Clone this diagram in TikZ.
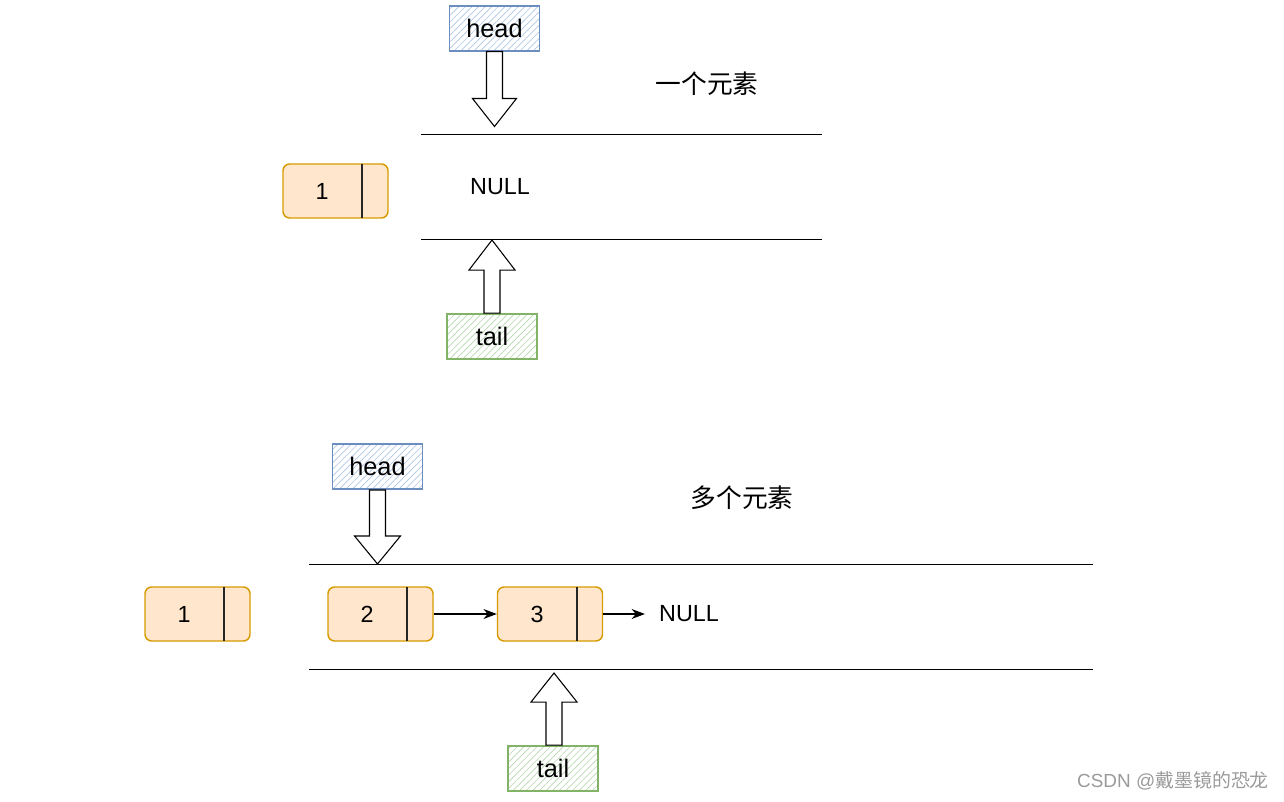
\documentclass[tikz,border=0pt]{standalone}
\usepackage{fontspec}
\setmainfont{Liberation Sans}
\newfontfamily\cjk{Noto Sans CJK SC}
\usetikzlibrary{patterns.meta,arrows.meta}
\definecolor{nodefill}{HTML}{FFE6CC}
\definecolor{nodeline}{HTML}{D79B00}
\definecolor{headline}{HTML}{6C8EBF}
\definecolor{headhatch}{HTML}{AFC6E6}
\definecolor{tailline}{HTML}{82B366}
\definecolor{tailhatch}{HTML}{B6D6AE}
\definecolor{wmgray}{HTML}{9A9A9A}
\begin{document}
\begin{tikzpicture}[x=0.75pt,y=-0.75pt,
  lnode/.style={draw=nodeline,fill=nodefill,line width=1.1pt,rounded corners=5pt,
    minimum width=78.75pt,minimum height=40.5pt,inner sep=0pt},
  ltext/.style={font=\fontsize{17.5}{20}\selectfont,inner sep=0pt},
  ptrbox/.style={line width=1.2pt,minimum width=67.5pt,minimum height=34pt,inner sep=0pt,
    font=\fontsize{19}{22}\selectfont},
  headbox/.style={ptrbox,draw=headline,
    pattern={Lines[angle=45,distance=3.5pt,line width=0.5pt]},pattern color=headhatch},
  tailbox/.style={ptrbox,draw=tailline,
    pattern={Lines[angle=45,distance=3.5pt,line width=0.5pt]},pattern color=tailhatch},
  harrow/.style={draw=black,fill=white,line width=0.8pt,line join=miter},
  sep/.style={line width=0.75pt},
  link/.style={line width=0.8pt,-{Stealth[length=10pt,width=7.5pt]}},
  title/.style={font=\cjk\fontsize{19.3}{22}\selectfont,inner sep=0pt},
  divider/.style={line width=0.9pt,draw=black!85}
]
\useasboundingbox (0,0) rectangle (1284,802);

% ---------------- one element ----------------
\node[headbox] (h1) at (494.5,28.5) {head};
\draw[harrow,shift={(h1.south)}] (-8,0) -- (-8,47) -- (-22,47) -- (0,75) -- (22,47) -- (8,47) -- (8,0) -- cycle;
\node[title] (t1txt) at (707,84) {一个元素};
\draw[sep] (421,135) -- (822,135);
\draw[sep] (421,240) -- (822,240);
\node[lnode] (a1) at (335.5,191) {};
\draw[divider] (362,164) -- (362,218);
\node[ltext] (a1t) at (322,191) {1};
\node[ltext] (null1) at (500,187) {NULL};
\node[tailbox] (t1) at (492,336.5) {tail};
\draw[harrow,shift={(t1.north)}] (-8,0) -- (-8,-43) -- (-23,-43) -- (0,-73) -- (23,-43) -- (8,-43) -- (8,0) -- cycle;

% ---------------- many elements ----------------
\node[headbox] (h2) at (377.5,466.5) {head};
\draw[harrow,shift={(h2.south)}] (-8,0) -- (-8,46) -- (-23,46) -- (0,74) -- (23,46) -- (8,46) -- (8,0) -- cycle;
\node[title] (t2txt) at (742,498) {多个元素};
\draw[sep] (309,564) -- (1093,564);
\draw[sep] (309,669) -- (1093,669);
\node[lnode] (b1) at (197.5,614) {};
\draw[divider] (224,587) -- (224,641);
\node[ltext] (b1t) at (184,614) {1};
\node[lnode] (b2) at (380.5,614) {};
\draw[divider] (407,587) -- (407,641);
\node[ltext] (b2t) at (367,614) {2};
\node[lnode] (b3) at (550,614) {};
\draw[divider] (577,587) -- (577,641);
\node[ltext] (b3t) at (537,614) {3};
\node[ltext] (null2) at (689,614) {NULL};
\draw[link] (b2.east) -- (b3.west);
\draw[link] (b3.east) -- ([xshift=-10.5pt]null2.west);
\node[tailbox] (t2) at (553,768.5) {tail};
\draw[harrow,shift={([xshift=0.75pt]t2.north)}] (-8,0) -- (-8,-43) -- (-23,-43) -- (0,-72) -- (23,-43) -- (8,-43) -- (8,0) -- cycle;

% watermark
\node[font=\fontsize{14.2}{17}\selectfont,text=wmgray,inner sep=0pt] (wm) at (1173,781) {CSDN @{\cjk 戴墨镜的恐龙}};
\end{tikzpicture}
\end{document}
